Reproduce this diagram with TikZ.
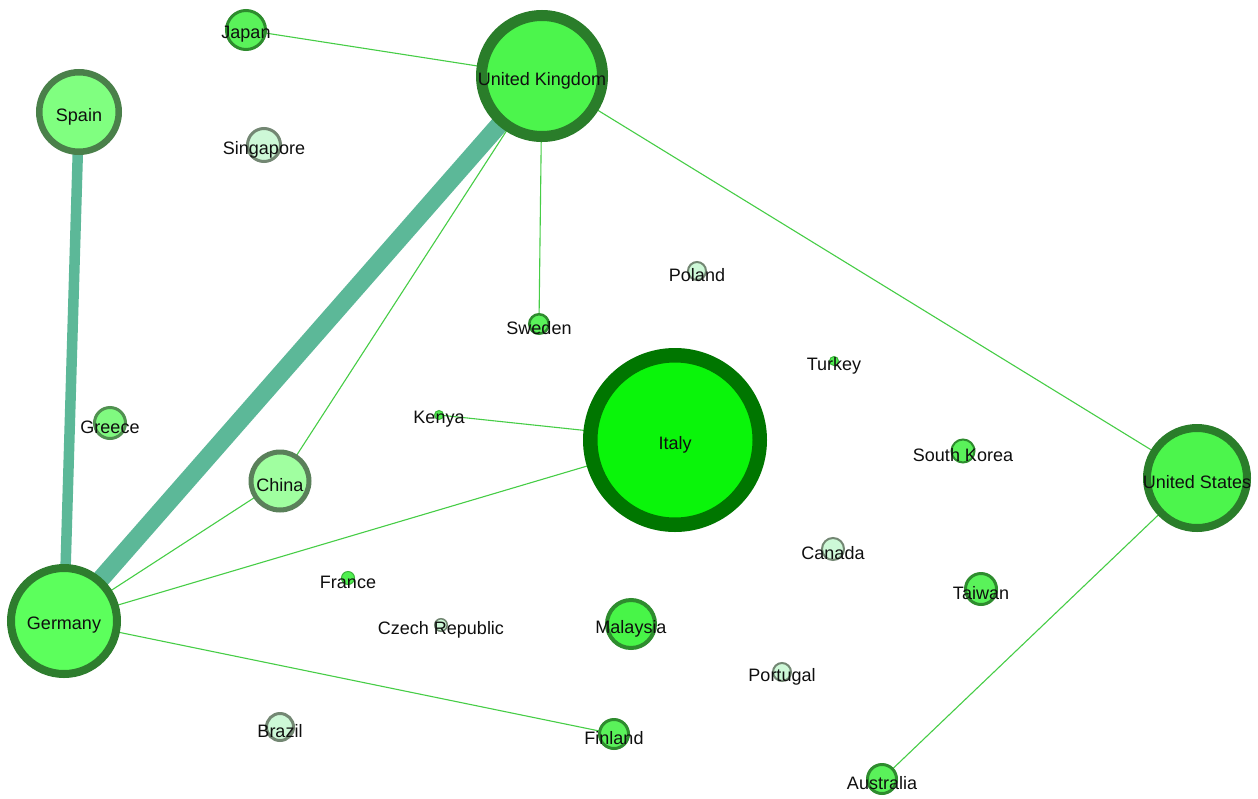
\documentclass[tikz,border=0pt]{standalone}
\usepackage{fontspec}
\setmainfont{Liberation Sans}
\usetikzlibrary{backgrounds}
\definecolor{fBig}{RGB}{76,245,76}
\definecolor{dBig}{RGB}{42,125,42}
\definecolor{fIt}{RGB}{10,245,10}
\definecolor{dIt}{RGB}{0,118,0}
\definecolor{fDe}{RGB}{92,255,92}
\definecolor{dDe}{RGB}{46,125,46}
\definecolor{fEs}{RGB}{128,255,128}
\definecolor{dEs}{RGB}{74,128,74}
\definecolor{fCn}{RGB}{160,255,160}
\definecolor{dCn}{RGB}{90,128,90}
\definecolor{fGr}{RGB}{128,250,128}
\definecolor{dGr}{RGB}{80,145,80}
\definecolor{fLt}{RGB}{205,248,215}
\definecolor{dLt}{RGB}{115,135,115}
\definecolor{fSm}{RGB}{90,242,90}
\definecolor{dSm}{RGB}{46,140,46}
\definecolor{fTn}{RGB}{80,240,80}
\definecolor{dTn}{RGB}{60,180,60}
\definecolor{edgeThin}{RGB}{70,205,70}
\definecolor{edgeThick}{RGB}{92,184,152}
\definecolor{txt}{RGB}{15,15,15}
\tikzset{
  cn/.style 2 args={circle, inner sep=0pt, outer sep=0pt, minimum size={(2*#1-#2)*1pt}, line width=#2pt},
  lab/.style={font=\fontsize{18}{20}\selectfont, text=txt, inner sep=0pt, yshift=-4.5pt},
  big/.style={fill=fBig, draw=dBig},
  ita/.style={fill=fIt, draw=dIt},
  ger/.style={fill=fDe, draw=dDe},
  spa/.style={fill=fEs, draw=dEs},
  chn/.style={fill=fCn, draw=dCn},
  grc/.style={fill=fGr, draw=dGr},
  lt/.style={fill=fLt, draw=dLt},
  sm/.style={fill=fSm, draw=dSm},
  tn/.style={fill=fTn, draw=dTn},
  thin/.style={draw=edgeThin, line width=1.1pt},
  thick/.style={draw=edgeThick, line width=#1pt},
}
\begin{document}
\begin{tikzpicture}[x=1pt,y=-1pt]
\path[use as bounding box] (0,0) rectangle (1258,798);
% nodes
\node[cn={21}{3}, sm, label={[lab]center:Japan}] (jp) at (246,30) {};
\node[cn={66}{11}, big, label={[lab]center:United Kingdom}] (uk) at (542,76) {};
\node[cn={43}{6.5}, spa, label={[lab]center:Spain}] (es) at (79,112) {};
\node[cn={18}{3}, lt, label={[lab]center:Singapore}] (sg) at (264,145) {};
\node[cn={10}{2}, lt, label={[lab]center:Poland}] (pl) at (697,271) {};
\node[cn={11}{2.5}, sm, label={[lab]center:Sweden}] (se) at (539,324) {};
\node[cn={5}{1}, tn, label={[lab]center:Turkey}] (tr) at (834,361) {};
\node[cn={5}{1}, tn, label={[lab]center:Kenya}] (ke) at (439,415) {};
\node[cn={92}{14.5}, ita, label={[lab]center:Italy}] (it) at (675,440) {};
\node[cn={17}{3}, grc, label={[lab]center:Greece}] (gr) at (110,423) {};
\node[cn={12.5}{2}, sm, label={[lab]center:South Korea}] (kr) at (963,451) {};
\node[cn={31.5}{5}, chn, label={[lab]center:China}] (cn) at (280,481) {};
\node[cn={54}{8}, big, label={[lab]center:United States}] (us) at (1197,478) {};
\node[cn={12}{2}, lt, label={[lab]center:Canada}] (ca) at (833,549) {};
\node[cn={7}{1}, tn, label={[lab]center:France}] (fr) at (348,578) {};
\node[cn={17}{3}, sm, label={[lab]center:Taiwan}] (tw) at (981,589) {};
\node[cn={57}{8}, ger, label={[lab]center:Germany}] (de) at (64,621) {};
\node[cn={7}{1.5}, lt, label={[lab]center:Czech Republic}] (cz) at (441,625) {};
\node[cn={26}{4}, sm, fill={rgb,255:red,72;green,245;blue,72}, label={[lab]center:Malaysia}] (my) at (631,624) {};
\node[cn={10}{2}, lt, label={[lab]center:Portugal}] (pt) at (782,672) {};
\node[cn={15}{3}, lt, label={[lab]center:Brazil}] (br) at (280,727) {};
\node[cn={16}{3}, sm, label={[lab]center:Finland}] (fi) at (614,734) {};
\node[cn={16}{3}, sm, label={[lab]center:Australia}] (au) at (882,779) {};
% edges
\begin{scope}[on background layer]
\fill[white] (0,0) rectangle (1258,798);
\draw[thick=18] (uk.center) -- (de.center);
\draw[thick=10.5] (es.center) -- (de.center);
\draw[thin] (jp.center) -- (uk.center);
\draw[thin] (uk.center) -- (cn.center);
\draw[thin] (uk.center) -- (se.center);
\draw[thin] (uk.center) -- (us.center);
\draw[thin] (ke.center) -- (it.center);
\draw[thin] (de.center) -- (cn.center);
\draw[thin] (de.center) -- (it.center);
\draw[thin] (de.center) -- (fi.center);
\draw[thin] (us.center) -- (au.center);
\end{scope}
\end{tikzpicture}
\end{document}
